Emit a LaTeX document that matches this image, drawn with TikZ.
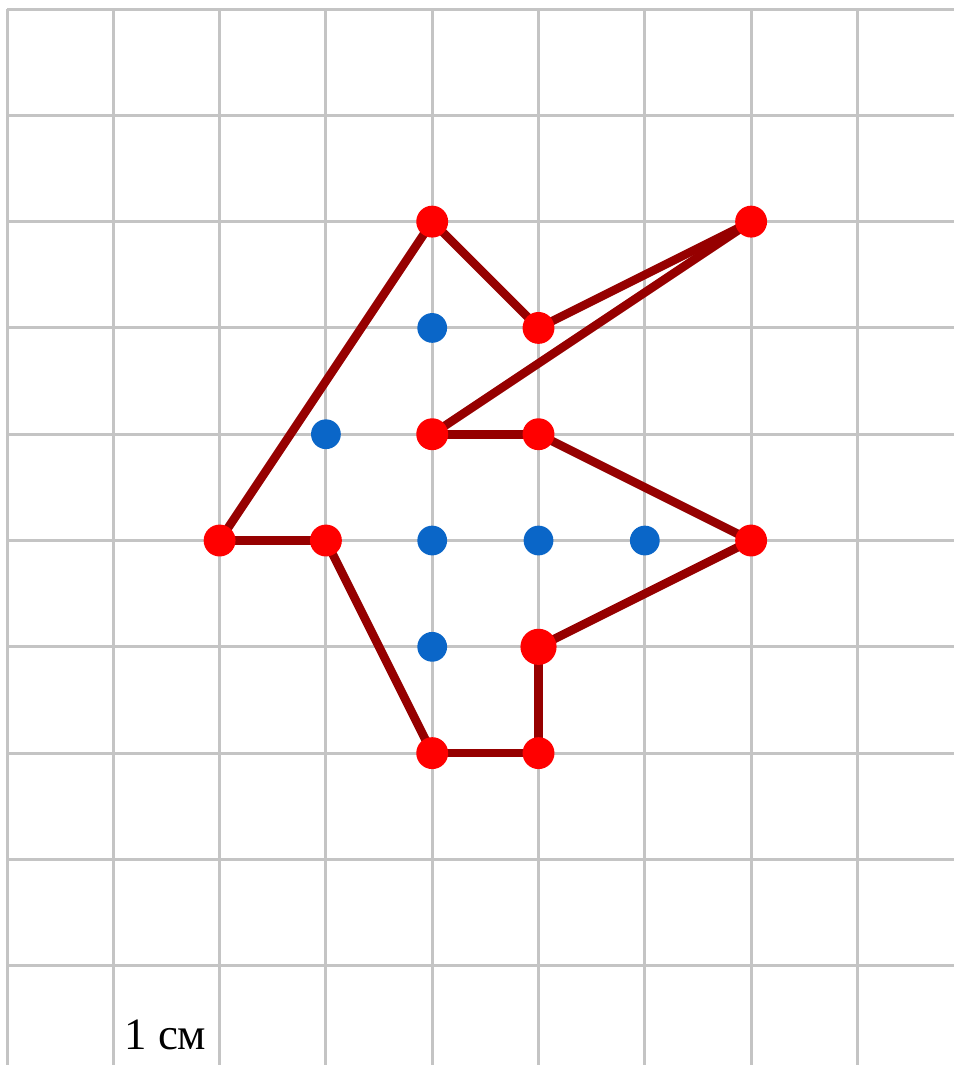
\documentclass[tikz,border=0pt]{standalone}
\usepackage{fontspec}
\setmainfont{Liberation Serif}
\definecolor{gridgray}{RGB}{196,196,196}
\definecolor{edgered}{RGB}{150,0,0}
\definecolor{dotred}{RGB}{255,0,0}
\definecolor{dotblue}{RGB}{10,102,200}
\tikzset{
  gridline/.style={gridgray, line width=0.8pt},
  edge/.style={edgered, line width=2.3pt},
  reddot/.style={circle, fill=dotred, inner sep=0pt, minimum size=0.3cm},
  bluedot/.style={circle, fill=dotblue, inner sep=0pt, minimum size=0.28cm}
}
\begin{document}
\begin{tikzpicture}
      \useasboundingbox (-0.066,-9.934) rectangle (8.909,0.085);
      \fill[white] (-0.066,-9.934) rectangle (8.909,0.085);
      \foreach \i in {0,...,8} \draw[gridline] (\i,0) -- (\i,-9.934);
      \foreach \j in {0,...,9} \draw[gridline] (0,-\j) -- (8.909,-\j);
      \coordinate (top) at (4,-2);
      \coordinate (tip) at (7,-2);
      \coordinate (notch) at (5,-3);
      \coordinate (mid) at (4,-4);
      \coordinate (midr) at (5,-4);
      \coordinate (left) at (2,-5);
      \coordinate (leftin) at (3,-5);
      \coordinate (right) at (7,-5);
      \coordinate (low) at (5,-6);
      \coordinate (botl) at (4,-7);
      \coordinate (botr) at (5,-7);
      \draw[edge] (top) -- (notch);
      \draw[edge] (notch) -- (tip);
      \draw[edge] (tip) -- (mid);
      \draw[edge] (mid) -- (midr);
      \draw[edge] (midr) -- (right);
      \draw[edge] (right) -- (low);
      \draw[edge] (low) -- (botr);
      \draw[edge] (botr) -- (botl);
      \draw[edge] (botl) -- (leftin);
      \draw[edge] (leftin) -- (left);
      \draw[edge] (left) -- (top);
      \node[reddot] (ptop) at (top) {};
      \node[reddot] (ptip) at (tip) {};
      \node[reddot] (pnotch) at (notch) {};
      \node[reddot] (pmid) at (mid) {};
      \node[reddot] (pmidr) at (midr) {};
      \node[reddot] (pleft) at (left) {};
      \node[reddot] (pleftin) at (leftin) {};
      \node[reddot] (pright) at (right) {};
      \node[reddot, minimum size=0.34cm] (plow) at (low) {};
      \node[reddot] (pbotl) at (botl) {};
      \node[reddot] (pbotr) at (botr) {};
      \node[bluedot] (b1) at (4,-3) {};
      \node[bluedot] (b2) at (3,-4) {};
      \node[bluedot] (b3) at (4,-5) {};
      \node[bluedot] (b4) at (5,-5) {};
      \node[bluedot] (b5) at (6,-5) {};
      \node[bluedot] (b6) at (4,-6) {};
      \node[anchor=base, font=\fontsize{12}{14}\selectfont] (unit) at (1.49,-9.79) {1 см};
    \end{tikzpicture}
\end{document}
